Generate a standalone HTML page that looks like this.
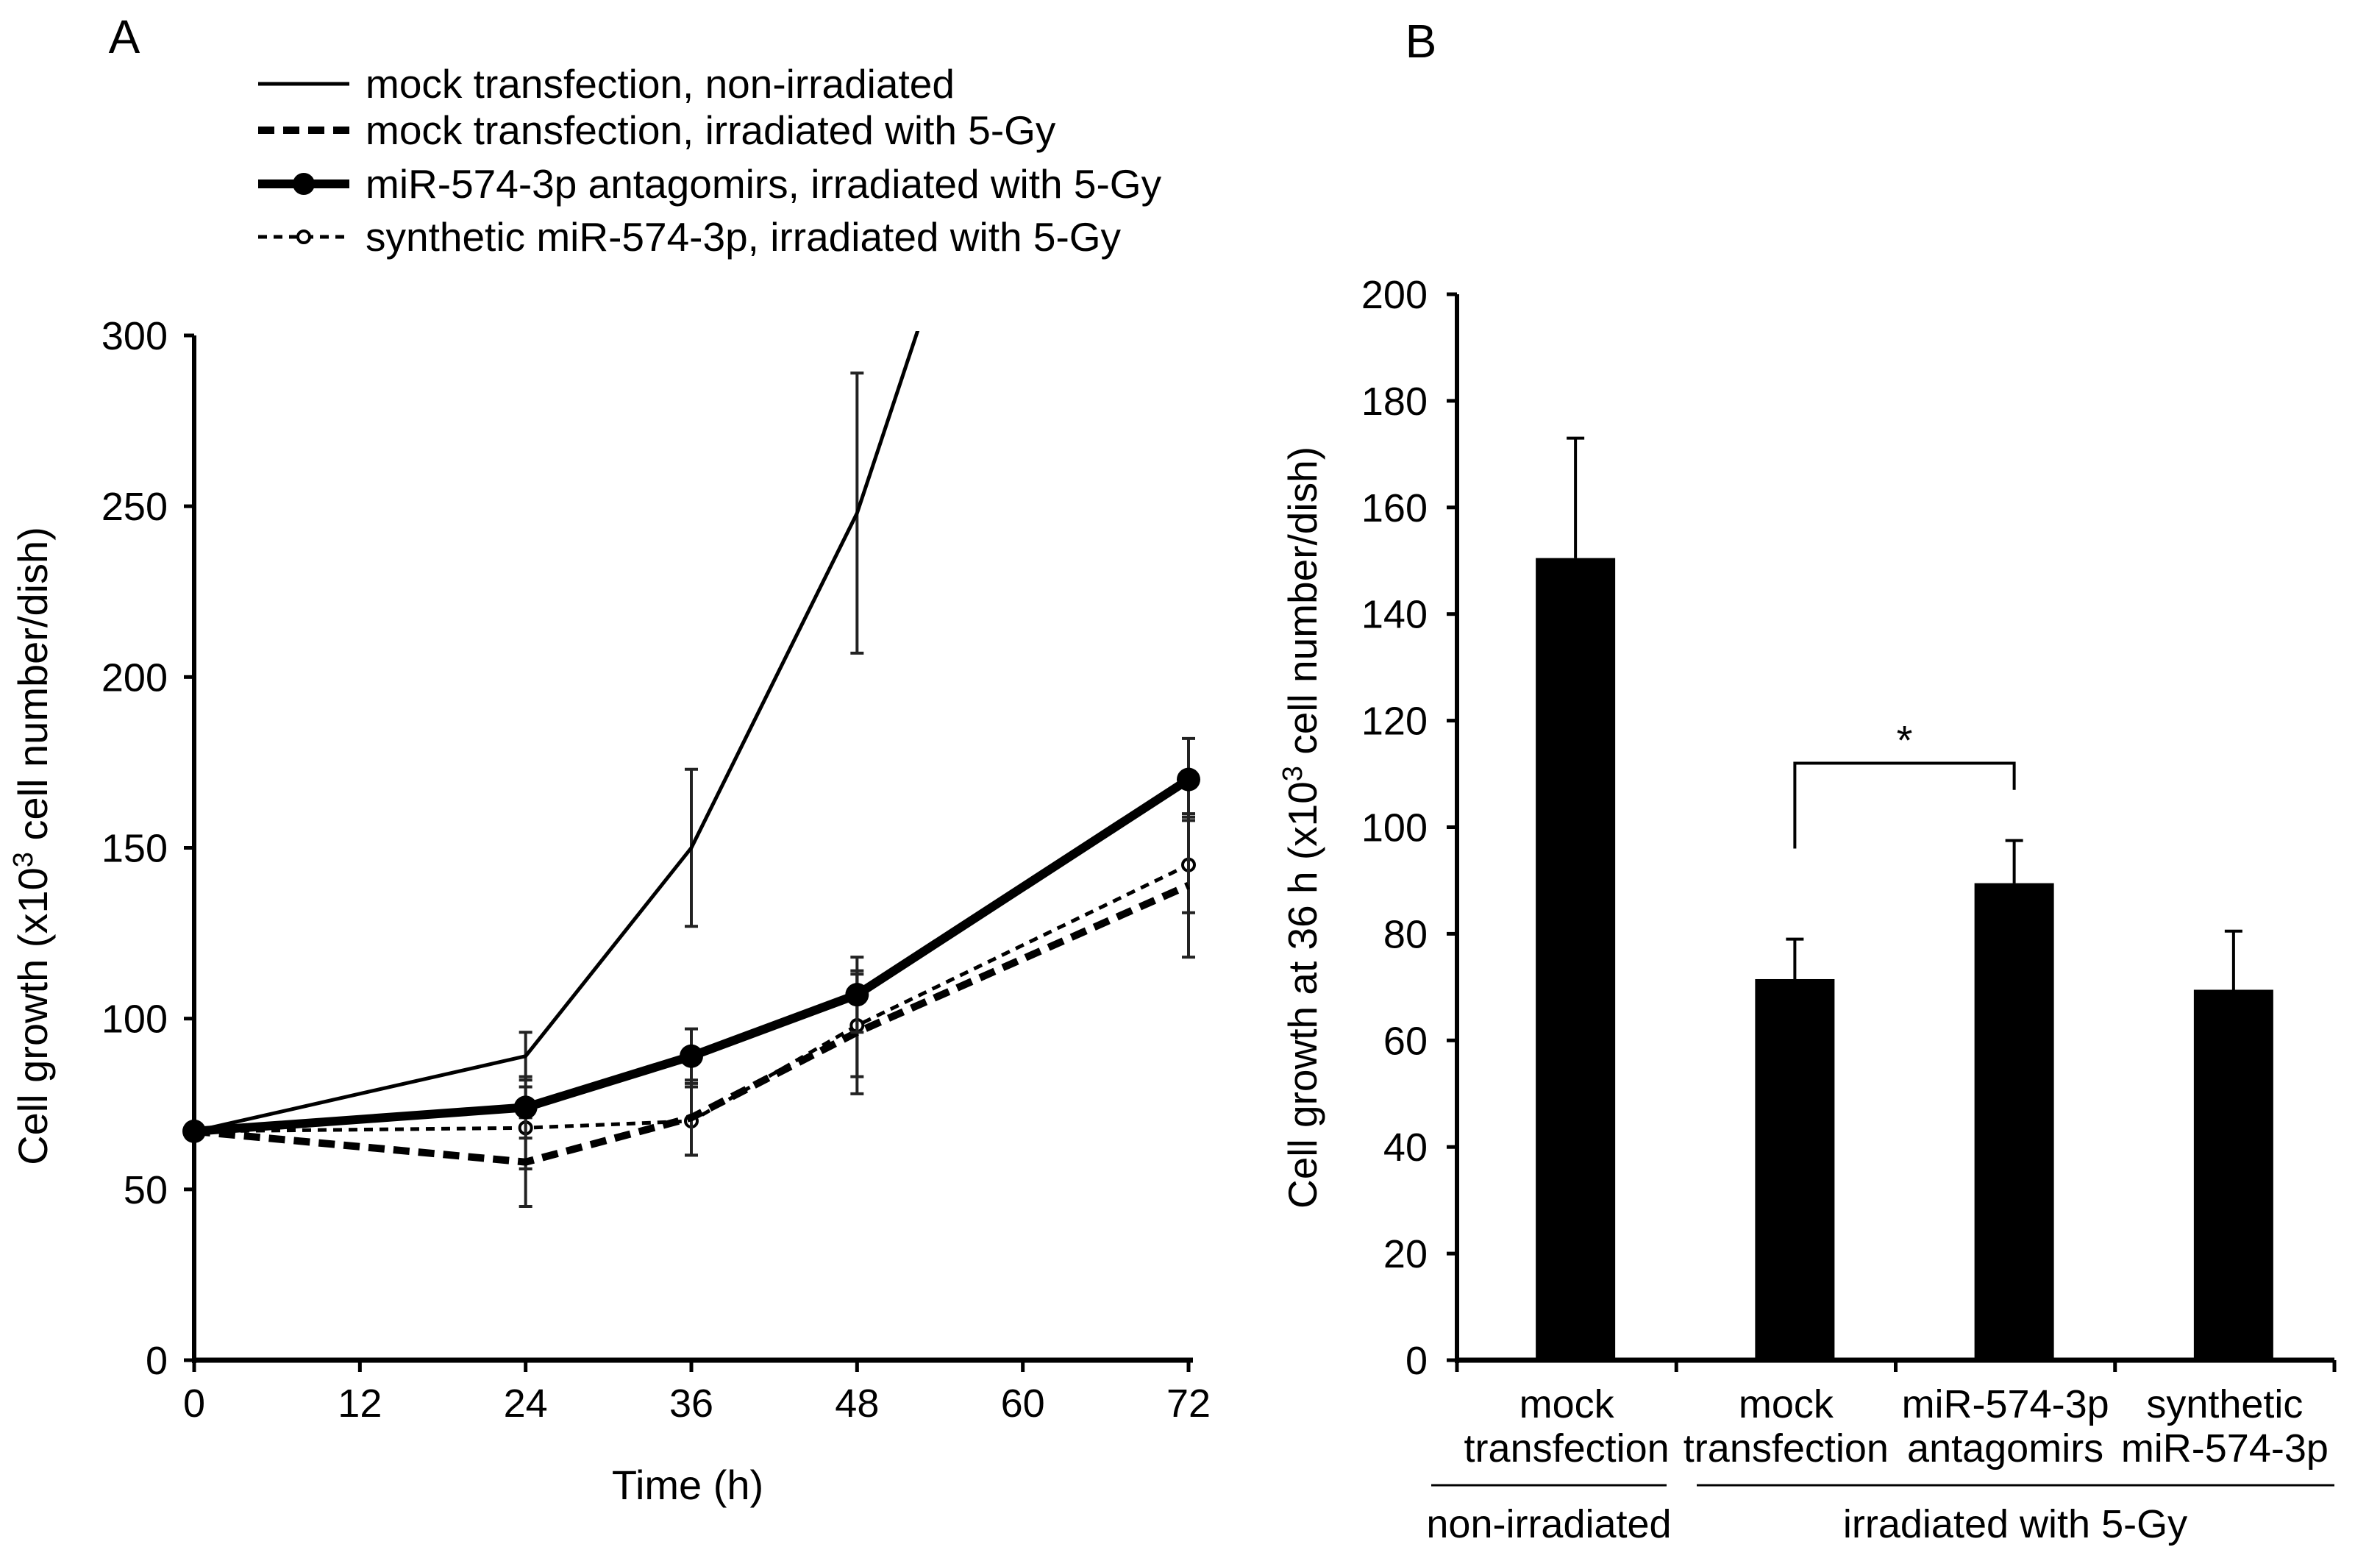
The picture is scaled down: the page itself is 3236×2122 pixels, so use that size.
<!DOCTYPE html>
<html><head><meta charset="utf-8"><style>
html,body{margin:0;padding:0;background:#fff;}
svg{display:block;font-family:"Liberation Sans",Arial,sans-serif;}
</style></head><body>
<svg id="fig" width="3236" height="2122" viewBox="0 0 3236 2122" xmlns="http://www.w3.org/2000/svg">
<defs><clipPath id="clipA"><rect x="200" y="450" width="1500" height="1420"/></clipPath></defs>
<g id="panelA"></g>
<g id="panelB"></g>
</svg>
<script>
// Panel A data
const timesA = [0, 24, 36, 48, 72];
const mockNonIrr = [67, 89, 150, 248, 540];
const mockNonIrrErr = [0, 7, 23, 41, null];
const mockIrr = [67, 58, 71, 96, 139];
const mockIrrErr = [0, 13, 11, 18, 21];
const antago = [67, 74, 89, 107, 170];
const antagoErr = [0, 9, 8, 11, 12];
const synth = [67, 68, 70, 98, 145];
const synthErr = [0, 12, 10, 15, 14];
const xTicksA = [0, 12, 24, 36, 48, 60, 72];
const yTicksA = [0, 50, 100, 150, 200, 250, 300];
// Panel B data
const catsB = [["mock","transfection"],["mock","transfection"],["miR-574-3p","antagomirs"],["synthetic","miR-574-3p"]];
const valsB = [150.5, 71.5, 89.5, 69.5];
const errB = [22.5, 7.5, 8, 11];
const yTicksB = [0,20,40,60,80,100,120,140,160,180,200];

const NS = "http://www.w3.org/2000/svg";
function mk(parent, tag, attrs, text){
  const e = document.createElementNS(NS, tag);
  for (const k in attrs) e.setAttribute(k, attrs[k]);
  if (text !== undefined) e.textContent = text;
  parent.appendChild(e); return e;
}
const A = document.getElementById('panelA');
const B = document.getElementById('panelB');

// ---- Panel A ----
const ax0 = 264, ax1 = 1616, ay0 = 1849, ay1 = 456;
const xA = t => ax0 + (t/72)*(ax1-ax0);
const yA = v => ay0 - (v/300)*(ay0-ay1);

let t = mk(A,'text',{x:169,y:72,'font-size':64,'text-anchor':'middle'},'A');



const legY = [114,177,250,322];
const legTxt = ["mock transfection, non-irradiated","mock transfection, irradiated with 5-Gy","miR-574-3p antagomirs, irradiated with 5-Gy","synthetic miR-574-3p, irradiated with 5-Gy"];
const legStyles = [{w:5,d:''},{w:10,d:'22,12'},{w:12,d:''},{w:5,d:'12,9'}];
legY.forEach((y,i)=>{
  const g = mk(A,'g',{});
  
  
  const l = mk(g,'line',{x1:351,x2:475,y1:y,y2:y,stroke:'#000','stroke-width':legStyles[i].w});
  if (legStyles[i].d) l.setAttribute('stroke-dasharray',legStyles[i].d);
  if (i===2) mk(g,'circle',{cx:413,cy:y,r:15,fill:'#000'});
  if (i===3) mk(g,'circle',{cx:413,cy:y,r:8,fill:'#fff',stroke:'#000','stroke-width':4});
  mk(g,'text',{x:497,y:y+19,'font-size':55},legTxt[i]);
});

const axA = mk(A,'g',{});


mk(axA,'line',{x1:ax0,x2:ax0,y1:ay1,y2:ay0+4,stroke:'#000','stroke-width':6});
mk(axA,'line',{x1:ax0-3,x2:ax1+6,y1:ay0,y2:ay0,stroke:'#000','stroke-width':7});
yTicksA.forEach(v=>{
  mk(axA,'line',{x1:ax0-14,x2:ax0,y1:yA(v),y2:yA(v),stroke:'#000','stroke-width':5});
  const tx = mk(axA,'text',{x:ax0-36,y:yA(v)+19,'font-size':54,'text-anchor':'end'},String(v));
  
  
});
xTicksA.forEach(v=>{
  mk(axA,'line',{x1:xA(v),x2:xA(v),y1:ay0,y2:ay0+16,stroke:'#000','stroke-width':5});
  const tx = mk(axA,'text',{x:xA(v),y:ay0+77,'font-size':54,'text-anchor':'middle'},String(v));
  
  
});
t = mk(A,'text',{x:935,y:2038,'font-size':56,'text-anchor':'middle'},'Time (h)');


t = mk(A,'text',{x:0,y:0,'font-size':56,'text-anchor':'middle',transform:'translate(64,1150) rotate(-90)'});


t.innerHTML = 'Cell growth (x10<tspan dy="-20" font-size="38">3</tspan><tspan dy="20"> cell number/dish)</tspan>';

const plot = mk(A,'g',{'clip-path':'url(#clipA)'});


function series(name, vals, errs, w, dash, marker){
  const g = mk(plot,'g',{});
  
  
  vals.forEach((v,i)=>{
    const e = errs[i];
    if (e){
      const x = xA(timesA[i]);
      mk(g,'line',{x1:x,x2:x,y1:yA(v-e),y2:yA(v+e),stroke:'#222','stroke-width':4});
      mk(g,'line',{x1:x-9,x2:x+9,y1:yA(v-e),y2:yA(v-e),stroke:'#222','stroke-width':4});
      mk(g,'line',{x1:x-9,x2:x+9,y1:yA(v+e),y2:yA(v+e),stroke:'#222','stroke-width':4});
    }
  });
  const pts = vals.map((v,i)=>xA(timesA[i])+','+yA(v)).join(' ');
  const pl = mk(g,'polyline',{points:pts,fill:'none',stroke:'#000','stroke-width':w,'stroke-linejoin':'round'});
  if (dash) pl.setAttribute('stroke-dasharray',dash);
  vals.forEach((v,i)=>{
    if (marker==='filled') mk(g,'circle',{cx:xA(timesA[i]),cy:yA(v),r:16,fill:'#000'});
    if (marker==='open') mk(g,'circle',{cx:xA(timesA[i]),cy:yA(v),r:8,fill:'#fff',stroke:'#000','stroke-width':4});
  });
}
series('series-mock-non-irradiated', mockNonIrr, mockNonIrrErr, 5, '', null);
series('series-synthetic-mir', synth, synthErr, 5, '12,9', 'open');
series('series-mock-irradiated', mockIrr, mockIrrErr, 10, '22,12', null);
series('series-antagomirs', antago, antagoErr, 12, '', 'filled');

// ---- Panel B ----
const bx0 = 1981, bx1 = 3174, by0 = 1849, by1 = 400;
const band = (bx1-bx0)/catsB.length;
const xB = i => bx0 + band*(i+0.5) + 12;
const yB = v => by0 - (v/200)*(by0-by1);
const bw = 108;

t = mk(B,'text',{x:1932,y:78,'font-size':64,'text-anchor':'middle'},'B');



const axB = mk(B,'g',{});


mk(axB,'line',{x1:bx0,x2:bx0,y1:by1,y2:by0+4,stroke:'#000','stroke-width':6});
mk(axB,'line',{x1:bx0-3,x2:bx1,y1:by0,y2:by0,stroke:'#000','stroke-width':7});
yTicksB.forEach(v=>{
  mk(axB,'line',{x1:bx0-14,x2:bx0,y1:yB(v),y2:yB(v),stroke:'#000','stroke-width':5});
  const tx = mk(axB,'text',{x:bx0-40,y:yB(v)+19,'font-size':54,'text-anchor':'end'},String(v));
  
  
});
for (let i=0;i<=catsB.length;i++){
  const x = bx0 + band*i;
  mk(axB,'line',{x1:x,x2:x,y1:by0,y2:by0+16,stroke:'#000','stroke-width':5});
}
t = mk(B,'text',{x:0,y:0,'font-size':55,'text-anchor':'middle',transform:'translate(1790,1125) rotate(-90)'});


t.innerHTML = 'Cell growth at 36 h (x10<tspan dy="-20" font-size="38">3</tspan><tspan dy="20"> cell number/dish)</tspan>';

valsB.forEach((v,i)=>{
  const g = mk(B,'g',{});
  
  
  const x = xB(i);
  mk(g,'line',{x1:x,x2:x,y1:yB(v),y2:yB(v+errB[i]),stroke:'#000','stroke-width':4});
  mk(g,'line',{x1:x-12,x2:x+12,y1:yB(v+errB[i]),y2:yB(v+errB[i]),stroke:'#000','stroke-width':4});
  mk(g,'rect',{x:x-bw/2,y:yB(v),width:bw,height:by0-yB(v),fill:'#000'});
  const lx = bx0 + band*(i+0.5);
  const l = mk(g,'text',{x:lx,y:1927,'font-size':54,'text-anchor':'middle'});
  l.innerHTML = '<tspan x="'+lx+'">'+catsB[i][0]+'</tspan><tspan x="'+lx+'" dy="60">'+catsB[i][1]+'</tspan>';
});

const br = mk(B,'g',{});


const by = yB(112);
mk(br,'polyline',{points:xB(1)+','+yB(96)+' '+xB(1)+','+by+' '+xB(2)+','+by+' '+xB(2)+','+yB(107),fill:'none',stroke:'#000','stroke-width':4});
mk(br,'text',{x:(xB(1)+xB(2))/2,y:by-12,'font-size':56,'text-anchor':'middle'},'*');

const grp = mk(B,'g',{});


mk(grp,'line',{x1:1946,x2:2266,y1:2019,y2:2019,stroke:'#000','stroke-width':3});
mk(grp,'line',{x1:2307,x2:3174,y1:2019,y2:2019,stroke:'#000','stroke-width':3});
mk(grp,'text',{x:2106,y:2090,'font-size':54,'text-anchor':'middle'},'non-irradiated');
mk(grp,'text',{x:2740,y:2090,'font-size':54,'text-anchor':'middle'},'irradiated with 5-Gy');
</script>
</body></html>
